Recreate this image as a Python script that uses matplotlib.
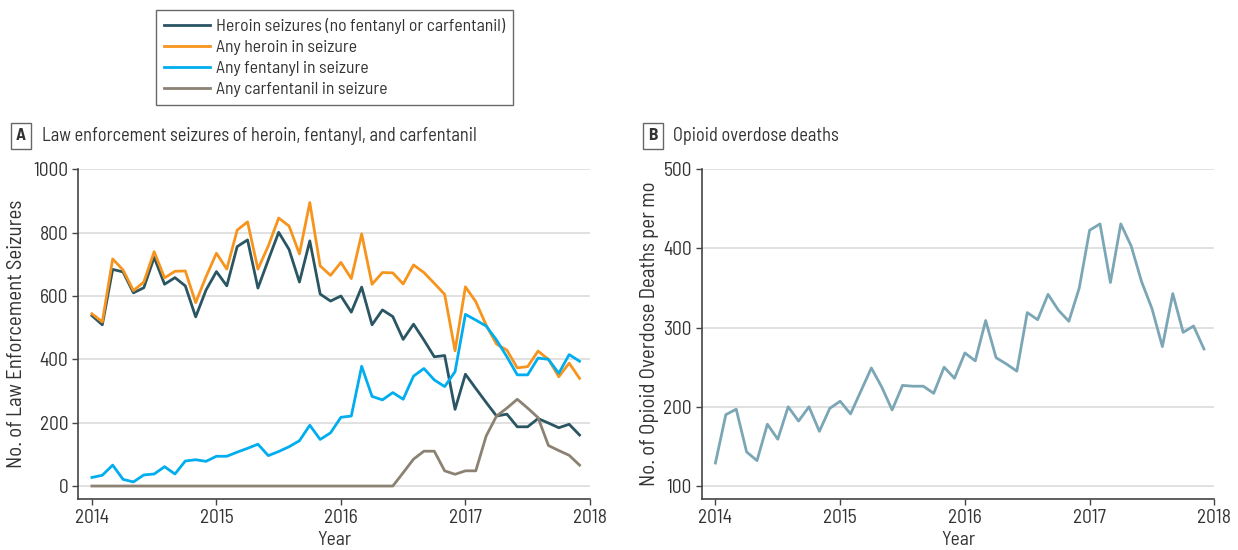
import matplotlib
matplotlib.use("Agg")
import matplotlib.pyplot as plt
import numpy as np

# condensed humanist sans, close to the journal font
plt.rcParams['font.family'] = ['Barlow Semi Condensed', 'Asap Condensed', 'DejaVu Sans']

# monthly values, Jan 2014 - Dec 2017
months = 2014 + np.arange(48) / 12

heroin_only = [538, 509, 684, 676, 610, 626, 722, 637, 658, 632, 534, 619,
               677, 632, 756, 777, 625, 714, 801, 747, 644, 774, 606, 584,
               600, 549, 628, 509, 556, 535, 463, 511, 461, 408, 412, 242,
               353, 308, 264, 221, 227, 187, 187, 213, 199, 184, 195, 161]
any_heroin = [544, 518, 717, 682, 617, 644, 740, 657, 678, 679, 579, 661,
              735, 685, 808, 834, 685, 758, 846, 821, 733, 895, 695, 665,
              706, 655, 796, 637, 674, 673, 638, 698, 674, 640, 605, 427,
              629, 582, 508, 448, 429, 373, 377, 426, 400, 345, 388, 340]
any_fentanyl = [27, 34, 66, 21, 13, 35, 38, 61, 38, 79, 83, 78,
                94, 94, 107, 119, 132, 96, 109, 124, 143, 192, 147, 168,
                217, 221, 378, 283, 272, 295, 274, 347, 371, 335, 314, 361,
                542, 524, 505, 461, 408, 351, 351, 404, 400, 356, 415, 394]
any_carfentanil = [0] * 29 + [0, 42, 85, 110, 110, 48, 37, 48, 48, 158, 221,
                              246, 274, 246, 216, 128, 112, 97, 66]

overdose_deaths = [129, 190, 197, 143, 132, 178, 159, 200, 182, 200, 169, 198,
                   207, 191, 220, 249, 225, 196, 227, 226, 226, 217, 250, 236,
                   268, 258, 309, 262, 254, 245, 319, 310, 342, 322, 308, 350,
                   423, 431, 357, 431, 403, 358, 324, 276, 343, 294, 302, 273]

txt = '#333333'
grid = '#dcdcdc'

fig = plt.figure(figsize=(12.38, 5.5), dpi=100)
axA = fig.add_axes([0.0632, 0.0927, 0.4133, 0.5995])
axB = fig.add_axes([0.5668, 0.0927, 0.4141, 0.5995])

axA.plot(months, heroin_only, color='#2a5563', lw=2, label='Heroin seizures (no fentanyl or carfentanil)', zorder=3)
axA.plot(months, any_heroin, color='#f7941d', lw=2, label='Any heroin in seizure', zorder=3)
axA.plot(months, any_fentanyl, color='#00aeef', lw=2, label='Any fentanyl in seizure', zorder=3)
axA.plot(months, any_carfentanil, color='#8c8273', lw=2, label='Any carfentanil in seizure', zorder=3)
axA.set_ylim(-41, 1000)
axA.set_yticks(range(0, 1001, 200))
axA.set_ylabel('No. of Law Enforcement Seizures', fontsize=15, color=txt)
axA.yaxis.set_label_coords(-0.102, 0.5)

axB.plot(months, overdose_deaths, color='#7ba6b5', lw=2, zorder=3)
axB.set_ylim(83.5, 500)
axB.set_yticks(range(100, 501, 100))
axB.set_ylabel('No. of Opioid Overdose Deaths per mo', fontsize=15, color=txt)
axB.yaxis.set_label_coords(-0.083, 0.5)

for ax in (axA, axB):
    ax.set_xlim(2013.89, 2018)
    ax.set_xticks([2014, 2015, 2016, 2017, 2018])
    ax.set_xlabel('Year', fontsize=14, color=txt, labelpad=3)
    ax.spines['top'].set_visible(False)
    ax.spines['right'].set_visible(False)
    for s in ('left', 'bottom'):
        ax.spines[s].set_color('#444444')
        ax.spines[s].set_linewidth(1.2)
    ax.tick_params(colors='#444444', labelcolor=txt, labelsize=14, length=4, width=1, pad=3)
    ax.grid(axis='y', color=grid, lw=1.2, zorder=0)
    ax.set_axisbelow(True)

# panel labels
fig.text(21 / 1238, 1 - 136 / 550, 'A', fontsize=12.5, fontweight='bold', color=txt,
         ha='center', va='center',
         bbox=dict(boxstyle='square,pad=0.3', fc='white', ec='#666666', lw=1))
fig.text(42 / 1238, 1 - 136 / 550, 'Law enforcement seizures of heroin, fentanyl, and carfentanil',
         fontsize=13.2, color=txt, va='center')
fig.text(653 / 1238, 1 - 136 / 550, 'B', fontsize=12.5, fontweight='bold', color=txt,
         ha='center', va='center',
         bbox=dict(boxstyle='square,pad=0.3', fc='white', ec='#666666', lw=1))
fig.text(673 / 1238, 1 - 136 / 550, 'Opioid overdose deaths',
         fontsize=13.2, color=txt, va='center')

leg = fig.legend(*axA.get_legend_handles_labels(), loc='upper left',
                 bbox_to_anchor=(156 / 1238, 1 - 10 / 550), fontsize=12.7,
                 frameon=True, fancybox=False, handlelength=2.6, handletextpad=0.35,
                 borderaxespad=0, labelspacing=0.32, borderpad=0.45)
leg.get_frame().set_edgecolor('#444444')
leg.get_frame().set_linewidth(1)
for t in leg.get_texts():
    t.set_color(txt)

fig.savefig('out.png', dpi=100)
